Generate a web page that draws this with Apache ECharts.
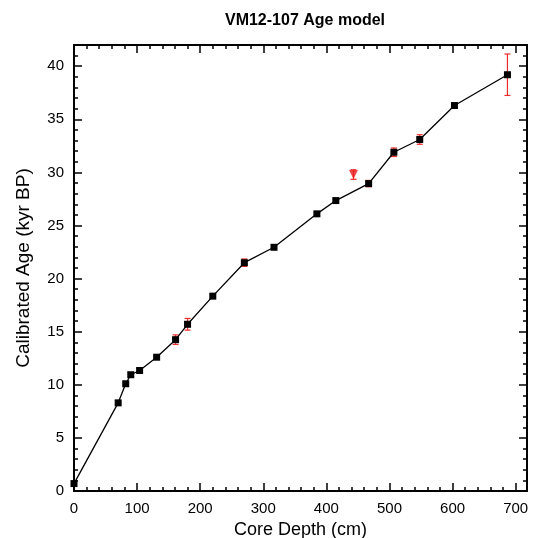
<!DOCTYPE html>
<html>
<head>
<meta charset="utf-8">
<script src="https://cdn.jsdelivr.net/npm/echarts@6/dist/echarts.min.js"></script>
<style>
  html, body { margin: 0; padding: 0; background: #fff; }
  #chart { width: 534px; height: 538px; }
</style>
</head>
<body>
<div id="chart"></div>
<script>
// ---------------- Data ----------------
let depth_cm = [0, 70, 82, 90, 104, 131, 161, 180, 220, 270, 317, 385, 415, 467, 507, 548, 603, 687];
let age_kyr  = [0.7, 8.3, 10.1, 10.95, 11.35, 12.6, 14.25, 15.7, 18.35, 21.5, 22.95, 26.1, 27.35, 28.95, 31.9, 33.1, 36.3, 39.2];
let age_err  = [0.1, 0.15, 0.15, 0.2, 0.15, 0.15, 0.45, 0.55, 0.2, 0.35, 0.15, 0.15, 0.15, 0.3, 0.4, 0.45, 0.15, 1.95];
// rejected date, not on the age model line
let outlier_depth = [443];
let outlier_age   = [29.8];
let outlier_err   = [0.45];

let x_major = [0, 100, 200, 300, 400, 500, 600, 700];
let y_major = [0, 5, 10, 15, 20, 25, 30, 35, 40];

// minor tick positions
let x_minor = [];
for (let v = 0; v <= 700; v += 20) x_minor.push(v);
let y_minor = [];
for (let v = 0; v <= 42; v += 1) y_minor.push(v);

let font_family = "Liberation Sans, Arial, Helvetica, sans-serif";

let chart_dom = document.getElementById("chart");
let chart = echarts.init(chart_dom);

let model_points = depth_cm.map((d, i) => [d, age_kyr[i]]);
let err_points = depth_cm.map((d, i) => [d, age_kyr[i] - age_err[i], age_kyr[i] + age_err[i]])
    .concat(outlier_depth.map((d, i) => [d, outlier_age[i] - outlier_err[i], outlier_age[i] + outlier_err[i]]));
let outlier_points = outlier_depth.map((d, i) => [d, outlier_age[i]]);

function make_x(pos, with_labels, ticks, len, show_line) {
    return {
        type: 'value', position: pos, min: 0, max: 718, interval: 100,
        axisLine: {show: show_line, onZero: false, lineStyle: {color: '#000', width: 2}},
        axisTick: {show: true, inside: true, length: len, customValues: ticks,
                   lineStyle: {color: '#000', width: 1.5}},
        axisLabel: {show: with_labels, customValues: x_major, color: '#000',
                    fontSize: 15, fontFamily: font_family, margin: 10},
        splitLine: {show: false},
        name: with_labels ? 'Core Depth (cm)' : '',
        nameLocation: 'middle', nameGap: 30,
        nameTextStyle: {color: '#000', fontSize: 18, fontFamily: font_family}
    };
}
function make_y(pos, with_labels, ticks, len, show_line) {
    return {
        type: 'value', position: pos, min: 0, max: 42, interval: 5,
        axisLine: {show: show_line, onZero: false, lineStyle: {color: '#000', width: 2}},
        axisTick: {show: true, inside: true, length: len, customValues: ticks,
                   lineStyle: {color: '#000', width: 1.5}},
        axisLabel: {show: with_labels, customValues: y_major, color: '#000',
                    fontSize: 15, fontFamily: font_family, margin: 10},
        splitLine: {show: false},
        name: with_labels ? 'Calibrated Age (kyr BP)' : '',
        nameLocation: 'middle', nameGap: 41,
        nameTextStyle: {color: '#000', fontSize: 19, fontFamily: font_family}
    };
}

let option = {
    backgroundColor: '#fff',
    animation: false,
    title: {
        text: 'VM12-107 Age model',
        left: 300, top: 8, textAlign: 'center',
        textStyle: {color: '#000', fontSize: 16, fontWeight: 'bold', fontFamily: font_family}
    },
    grid: {left: 74, top: 45, right: 7, bottom: 47, containLabel: false, outerBoundsMode: 'none'},
    xAxis: [
        make_x('bottom', true, x_major, 8, true),
        make_x('bottom', false, x_minor, 4, false),
        make_x('top', false, x_major, 8, true),
        make_x('top', false, x_minor, 4, false)
    ],
    yAxis: [
        make_y('left', true, y_major, 8, true),
        make_y('left', false, y_minor, 4, false),
        make_y('right', false, y_major, 8, true),
        make_y('right', false, y_minor, 4, false)
    ],
    series: [
        {
            type: 'custom',
            name: 'errors',
            data: err_points,
            z: 2,
            renderItem: function (params, api) {
                let x = api.value(0);
                let lo = api.coord([x, api.value(1)]);
                let hi = api.coord([x, api.value(2)]);
                let cap = 3;
                let st = {stroke: '#ee2a2a', lineWidth: 1.2};
                return {
                    type: 'group',
                    children: [
                        {type: 'line', shape: {x1: lo[0], y1: lo[1], x2: hi[0], y2: hi[1]}, style: st},
                        {type: 'line', shape: {x1: lo[0] - cap, y1: lo[1], x2: lo[0] + cap, y2: lo[1]}, style: st},
                        {type: 'line', shape: {x1: hi[0] - cap, y1: hi[1], x2: hi[0] + cap, y2: hi[1]}, style: st}
                    ]
                };
            }
        },
        {
            type: 'line',
            name: 'Age model',
            data: model_points,
            z: 3,
            symbol: 'rect',
            symbolSize: 7,
            itemStyle: {color: '#000'},
            lineStyle: {color: '#000', width: 1.3}
        },
        {
            type: 'scatter',
            name: 'Rejected',
            data: outlier_points,
            z: 4,
            symbol: 'triangle',
            symbolRotate: 180,
            symbolSize: 9,
            itemStyle: {color: '#e8191b'}
        }
    ]
};
chart.setOption(option);
</script>
</body>
</html>
